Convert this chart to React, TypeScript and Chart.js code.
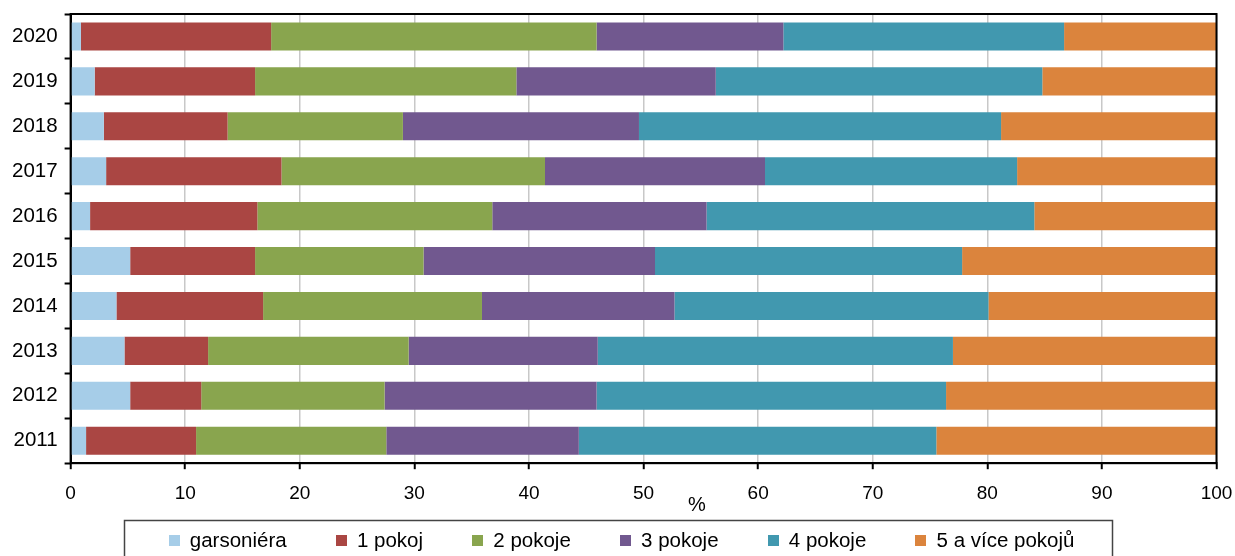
import React, { useEffect, useRef } from "react";
import { Chart, registerables } from "chart.js";

Chart.register(...registerables);

const years = ["2011", "2012", "2013", "2014", "2015", "2016", "2017", "2018", "2019", "2020"];
const seriesNames = ["garsoniéra", "1 pokoj", "2 pokoje", "3 pokoje", "4 pokoje", "5 a více pokojů"];
const garsoniera = [1.35, 5.2, 4.7, 4.0, 5.2, 1.7, 3.1, 2.9, 2.1, 0.9];
const pokoj1 = [9.6, 6.2, 7.3, 12.8, 10.9, 14.6, 15.3, 10.8, 14.0, 16.6];
const pokoje2 = [16.6, 16.0, 17.5, 19.1, 14.7, 20.5, 23.0, 15.3, 22.8, 28.4];
const pokoje3 = [16.8, 18.5, 16.5, 16.8, 20.2, 18.7, 19.2, 20.6, 17.4, 16.3];
const pokoje4 = [31.2, 30.5, 31.0, 27.4, 26.8, 28.6, 22.0, 31.6, 28.5, 24.5];
const pokoje5 = [24.5, 23.6, 23.0, 19.9, 22.2, 15.9, 17.4, 18.8, 15.2, 13.3];
const xTicksMin = 0;
const xTicksMax = 100;
const xTickStep = 10;
const xTitle = "%";

const colors = ["#a6cde8", "#aa4643", "#89a54e", "#71588f", "#4198af", "#db843d"];
const FONT = "'Liberation Sans', Arial, sans-serif";

const framePlugin = {
  id: "frame",
  afterDatasetsDraw(chart: any) {
    const { ctx, chartArea } = chart;
    ctx.save();
    ctx.strokeStyle = "#000";
    ctx.lineWidth = 2;
    ctx.strokeRect(chartArea.left, chartArea.top, chartArea.right - chartArea.left, chartArea.bottom - chartArea.top);
    ctx.restore();
  },
};

const axisTitlePlugin = {
  id: "axisTitle",
  afterDraw(chart: any) {
    const { ctx } = chart;
    ctx.save();
    ctx.font = `20px ${FONT}`;
    ctx.fillStyle = "#000";
    ctx.textAlign = "center";
    ctx.textBaseline = "middle";
    ctx.fillText(xTitle, 697, 505);
    ctx.restore();
  },
};

const boxLegendPlugin = {
  id: "boxLegend",
  afterDraw(chart: any) {
    const { ctx } = chart;
    const datasets = chart.data.datasets;
    const fontSize = 20.5;
    const box = 11;
    const gap = 49;
    const yc = 540.5;
    ctx.save();
    ctx.font = `${fontSize}px ${FONT}`;
    const widths = datasets.map((d: any) => box + fontSize / 2 + ctx.measureText(d.label).width);
    const total = widths.reduce((a: number, b: number) => a + b, 0) + gap * (datasets.length - 1);
    let x = chart.width / 2 + 4 - total / 2;
    const startX = x;
    datasets.forEach((d: any, i: number) => {
      ctx.fillStyle = d.backgroundColor;
      ctx.fillRect(Math.round(x), Math.round(yc - box / 2), box, box);
      ctx.fillStyle = "#000";
      ctx.textBaseline = "middle";
      ctx.textAlign = "left";
      ctx.fillText(d.label, x + box + fontSize / 2, yc + 1);
      x += widths[i] + gap;
    });
    const endX = x - gap;
    ctx.strokeStyle = "#444";
    ctx.lineWidth = 1.5;
    ctx.strokeRect(Math.round(startX - 45) + 0.5, 520.5, Math.round(endX + 37 - (startX - 45)), 80);
    ctx.restore();
  },
};

export default function App() {
  const ref = useRef<HTMLCanvasElement | null>(null);
  useEffect(() => {
    if (!ref.current) return;
    const series = [garsoniera, pokoj1, pokoje2, pokoje3, pokoje4, pokoje5];
    const chart = new Chart(ref.current, {
      type: "bar",
      data: {
        labels: years,
        datasets: series.map((data, i) => ({
          label: seriesNames[i],
          data,
          backgroundColor: colors[i],
          borderWidth: 0,
          categoryPercentage: 1,
          barPercentage: 0.625,
        })),
      },
      options: {
        indexAxis: "y",
        animation: false,
        responsive: true,
        maintainAspectRatio: false,
        layout: { padding: { left: 5, right: 18.5, top: 14, bottom: 38 } },
        plugins: {
          legend: { display: false },
          tooltip: { enabled: false },
        },
        scales: {
          x: {
            stacked: true,
            min: xTicksMin,
            max: xTicksMax,
            afterFit(scale: any) {
              scale.paddingLeft = 0;
              scale.paddingRight = 0;
            },
            ticks: {
              stepSize: xTickStep,
              color: "#000",
              font: { family: FONT, size: 19 },
              padding: 13,
              maxRotation: 0,
            },
            grid: {
              color: "#c8c8c8",
              lineWidth: 1.5,
              tickColor: "#000",
              tickLength: 6,
              tickWidth: 2,
            },
            border: { color: "#000", width: 2 },
            title: { display: false },
          },
          y: {
            stacked: true,
            reverse: true,
            afterFit(scale: any) {
              scale.paddingTop = 0;
              scale.paddingBottom = 0;
            },
            ticks: {
              color: "#000",
              font: { family: FONT, size: 20.5 },
              padding: 7,
            },
            grid: {
              drawOnChartArea: false,
              drawTicks: true,
              tickLength: 6,
              tickColor: "#000",
              tickWidth: 2,
              color: "#000",
            },
            border: { color: "#000", width: 2 },
          },
        },
      },
      plugins: [framePlugin, axisTitlePlugin, boxLegendPlugin],
    });
    return () => chart.destroy();
  }, []);
  return (
    <div style={{ position: "fixed", left: 0, top: 0, width: 1235, height: 556, background: "#fff" }}>
      <canvas ref={ref} />
    </div>
  );
}
